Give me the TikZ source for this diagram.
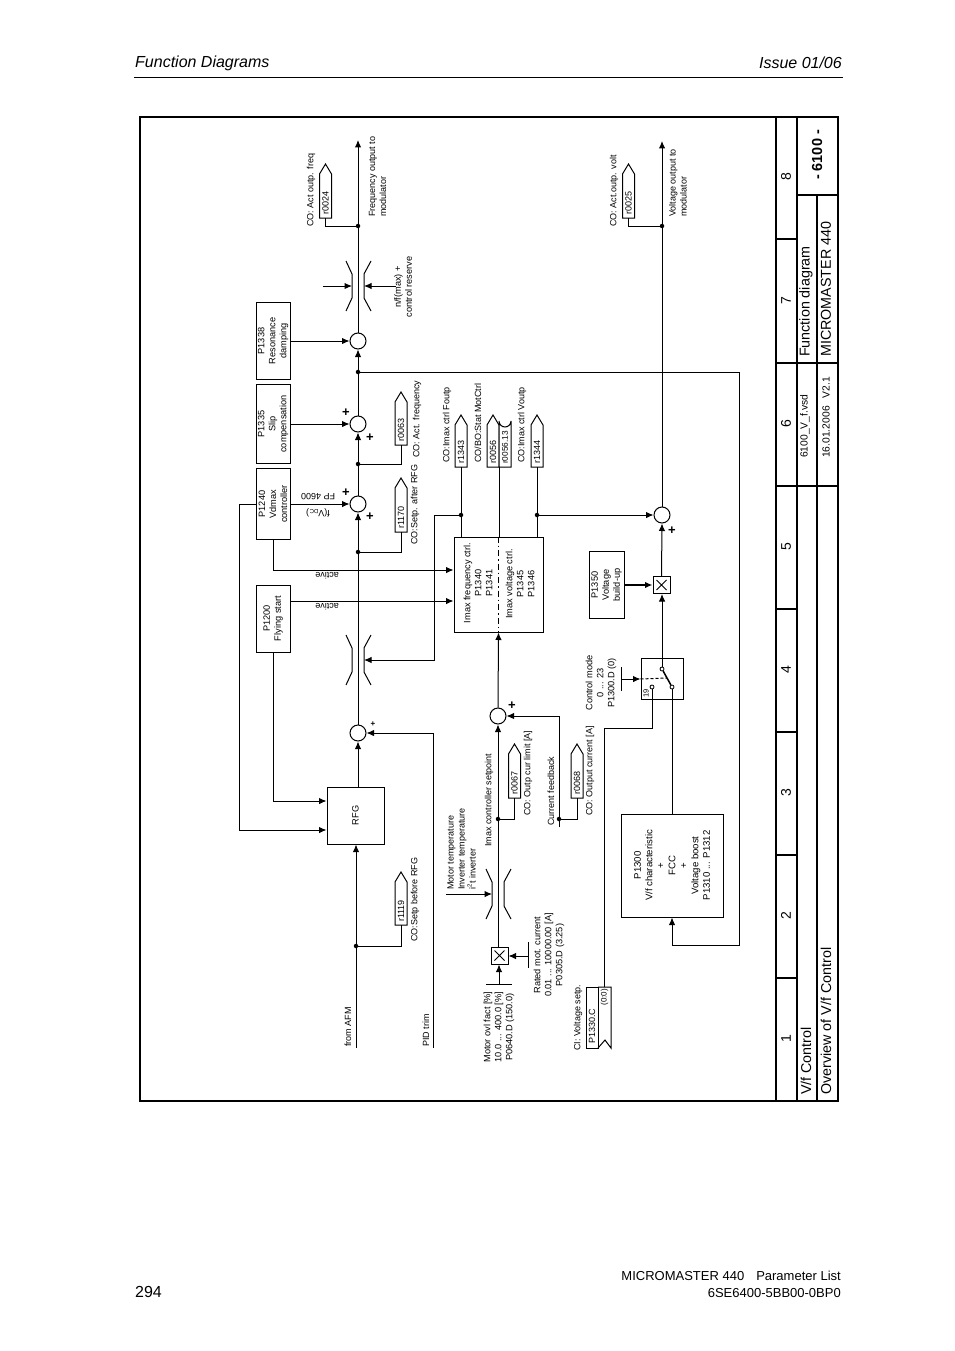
\documentclass[tikz,border=0pt]{standalone}
\usepackage{fontspec}
\setmainfont{Liberation Sans}
\usetikzlibrary{shapes,arrows,arrows.meta,positioning}

\tikzset{
  sumpt/.style={circle, draw, line width=1pt, fill=white, minimum size=16pt, inner sep=0pt},
  dotpt/.style={circle, fill=black, minimum size=4.5pt, inner sep=0pt},
  contpt/.style={circle, draw, fill=white, minimum size=4pt, inner sep=0pt, line width=0.8pt},
  blockbox/.style={rectangle, draw, line width=1pt, fill=white, inner sep=0pt},
  multbox/.style={rectangle, draw, line width=1pt, fill=white, minimum size=17pt, inner sep=0pt},
  wire/.style={line width=1pt},
  flow/.style={line width=1pt, -{Latex[length=7.5pt,width=6.5pt]}},
  rim/.style={line width=2pt},
  lbl/.style={rotate=90, align=center, inner sep=0pt, font=\fontsize{9.2pt}{11pt}\selectfont},
  lblw/.style={rotate=90, align=left, anchor=west, inner sep=0pt, font=\fontsize{9pt}{11pt}\selectfont},
  flip/.style={rotate=180, inner sep=0pt, font=\fontsize{9pt}{11pt}\selectfont},
  taglbl/.style={rotate=90, anchor=west, inner sep=0pt, font=\fontsize{9pt}{11pt}\selectfont},
  plus/.style={inner sep=0pt, font=\fontsize{13pt}{13pt}\selectfont\bfseries},
  colnum/.style={rotate=90, inner sep=0pt, font=\fontsize{14pt}{14pt}\selectfont},
  titlew/.style={rotate=90, anchor=west, inner sep=0pt, font=\fontsize{14.3pt}{14.3pt}\selectfont},
  smallw/.style={rotate=90, anchor=west, inner sep=0pt, font=\fontsize{10.3pt}{10.3pt}\selectfont},
  page/.style={inner sep=0pt, font=\fontsize{13pt}{16pt}\selectfont}
}

\newcommand{\sigtag}[5]{
  \draw[wire, fill=white] (#2-6,#3) -- (#2-6,#4+10) -- (#2,#4) -- (#2+6,#4+10) -- (#2+6,#3) -- cycle;
  \coordinate (#1) at (#2,#3);
  \node[taglbl] (#1t) at (#2,#3-3) {#5};
}
\newcommand{\limiter}[3]{
  \draw[wire] (#1-12,#2-25) -- (#1-6,#2-12) -- (#1-6,#2+12) -- (#1-12,#2+25);
  \draw[wire] (#1+13,#2-25) -- (#1+6,#2-12) -- (#1+6,#2+12) -- (#1+13,#2+25);
  \coordinate (#3l) at (#1-6,#2);
  \coordinate (#3r) at (#1+6,#2);
}

\begin{document}
\begin{tikzpicture}[x=1pt, y=-1pt]
  \useasboundingbox (0,0) rectangle (954,1351);

  \node[page, anchor=west, font=\fontsize{16pt}{16pt}\selectfont\itshape] (hdrL) at (135,63) {Function Diagrams};
  \node[page, anchor=east, font=\fontsize{16pt}{16pt}\selectfont\itshape] (hdrR) at (842,63) {Issue 01/06};
  \draw[wire] (134,78) -- (843,78);

  \draw[rim] (140,117) rectangle (838,1101);
  \draw[rim] (776,117) -- (776,1101);
  \draw[rim] (797,117) -- (797,1101);
  \draw[rim] (817,195) -- (817,1101);
  \draw[rim] (797,195) -- (838,195);
  \draw[rim] (776,239) -- (797,239);
  \draw[rim] (776,363) -- (838,363);
  \draw[rim] (776,486) -- (838,486);
  \draw[rim] (776,609) -- (797,609);
  \draw[rim] (776,732) -- (797,732);
  \draw[rim] (776,855) -- (797,855);
  \draw[rim] (776,978) -- (797,978);

  \node[colnum] (col8) at (786,177) {8};
  \node[colnum] (col7) at (786,301) {7};
  \node[colnum] (col6) at (786,424) {6};
  \node[colnum] (col5) at (786,547) {5};
  \node[colnum] (col4) at (786,670) {4};
  \node[colnum] (col3) at (786,793) {3};
  \node[colnum] (col2) at (786,916) {2};
  \node[colnum] (col1) at (786,1039) {1};

  \node[titlew] (titleA) at (806,1095) {V/f Control};
  \node[titlew] (titleB) at (826,1095) {Overview of V/f Control};
  \node[titlew] (titleC) at (806,357) {Function diagram};
  \node[titlew] (titleD) at (826,357) {MICROMASTER 440};
  \node[smallw] (titleE) at (805,458) {6100\_V\_f.vsd};
  \node[smallw] (titleF) at (826,458) {16.01.2006\hspace{8pt}V2.1};
  \node[rotate=90, inner sep=0pt, font=\fontsize{14.5pt}{14.5pt}\selectfont\bfseries] (titleG) at (817,155) {- 6100 -};

  \node[sumpt] (sumRes) at (358,341) {};
  \node[sumpt] (sumSlip) at (358,424) {};
  \node[sumpt] (sumVd) at (358,504) {};
  \node[sumpt] (sumPid) at (358,733) {};
  \node[sumpt] (sumI) at (498,716) {};
  \node[sumpt] (sumV) at (662,515) {};

  \node[dotpt] (dotFreq) at (358,226) {};
  \node[dotpt] (dotVolt) at (662,226) {};
  \node[dotpt] (dotBack) at (358,372) {};
  \node[dotpt] (dotAct) at (358,464) {};
  \node[dotpt] (dotSetp) at (358,552) {};
  \node[dotpt] (dotAfm) at (356,946) {};
  \node[dotpt] (dotFout) at (461,515) {};
  \node[dotpt] (dotVout) at (537,515) {};
  \node[dotpt] (dotLim) at (498,819) {};
  \node[dotpt] (dotFb) at (559,819) {};

  \node[blockbox, minimum width=34pt, minimum height=77pt] (P1338) at (273,341) {};
  \node[lbl] (tP1338) at (P1338) {P1338\\Resonance\\damping};
  \node[blockbox, minimum width=34pt, minimum height=79pt] (P1335) at (273,424) {};
  \node[lbl] (tP1335) at (P1335) {P1335\\Slip\\compensation};
  \node[blockbox, minimum width=34pt, minimum height=71pt] (P1240) at (273,504) {};
  \node[lbl] (tP1240) at (P1240) {P1240\\Vdmax\\controller};
  \node[blockbox, minimum width=34pt, minimum height=67pt] (P1200) at (273,618.5) {};
  \node[lbl] (tP1200) at (P1200) {P1200\\Flying start};
  \node[blockbox, minimum width=57pt, minimum height=57pt] (RFG) at (355.5,815.5) {};
  \node[lbl] (tRFG) at (RFG) {RFG};
  \node[blockbox, minimum width=89pt, minimum height=95pt] (Imax) at (498.5,584.5) {};
  \node[lbl] (tImaxF) at (478,583) {Imax frequency ctrl.\\P1340\\P1341};
  \node[lbl] (tImaxV) at (520,584) {Imax voltage ctrl.\\P1345\\P1346};
  \node[blockbox, minimum width=35pt, minimum height=67pt] (P1350) at (606.5,585) {};
  \node[lbl] (tP1350) at (P1350) {P1350\\Voltage\\build-up};
  \node[blockbox, minimum width=102pt, minimum height=103pt] (P1300) at (672,865.5) {};
  \node[lbl, font=\fontsize{9.6pt}{11.5pt}\selectfont] (tP1300) at (P1300) {P1300\\V/f characteristic\\+\\FCC\\+\\Voltage boost\\P1310 ... P1312};
  \node[blockbox, minimum width=42pt, minimum height=41pt] (swBox) at (662,678.5) {};
  \node[multbox] (mulV) at (661.5,585) {};
  \draw[wire] (mulV.center) ++(-5,-5) -- ++(10,10) ++(0,-10) -- ++(-10,10);
  \node[multbox] (mulI) at (499.5,955.5) {};
  \draw[wire] (mulI.center) ++(-5,-5) -- ++(10,10) ++(0,-10) -- ++(-10,10);

  \limiter{358}{286}{limA}
  \limiter{358}{660}{limB}
  \limiter{498}{894}{limC}

  \coordinate (outF) at (358,140);
  \coordinate (outV) at (662,141);
  \coordinate (fromAfm) at (356,1048);
  \coordinate (pidEnd) at (433,1048);
  \coordinate (pidCor) at (433,733);
  \coordinate (limAin) at (323,286);
  \coordinate (limAex) at (396,286);
  \coordinate (limCin) at (446,894);
  \coordinate (cVd) at (239,830);
  \coordinate (cFly) at (273,801);
  \coordinate (cAct) at (273,570);
  \coordinate (cLim) at (434,660);
  \coordinate (cRes) at (739,945);
  \coordinate (cFb) at (559,716);
  \coordinate (fbEnd) at (559,827);
  \coordinate (cSw) at (604,728);
  \coordinate (ctrlT) at (621,679);
  \coordinate (bladeM) at (667,678);
  \coordinate (ratedT) at (528,956);
  \coordinate (ovlT) at (499,984);

  \sigtag{r0024}{325.5}{218}{164}{r0024}
  \sigtag{r0025}{628.5}{218}{164}{r0025}
  \sigtag{r0063}{401}{445}{392}{r0063}
  \sigtag{r1170}{401}{532}{478}{r1170}
  \sigtag{r1119}{401}{925}{872}{r1119}
  \sigtag{r1343}{461}{467}{415}{r1343}
  \sigtag{r0056}{493}{467}{415}{r0056}
  \sigtag{r1344}{537}{467}{415}{r1344}
  \sigtag{r0067}{514.5}{798}{744}{r0067}
  \sigtag{r0068}{577}{798}{744}{r0068}
  \draw[wire, fill=white] (499,467) -- (499,421) arc[start angle=180, end angle=0, radius=6] -- (511,467) -- cycle;
  \coordinate (r0056b) at (499,467);
  \node[taglbl, font=\fontsize{8.3pt}{9pt}\selectfont] (r0056bt) at (505,464) {r0056.13};

  \draw[flow] (sumRes.north) -- (outF);
  \draw[wire] (sumSlip.north) -- (dotBack);
  \draw[flow] (dotBack) -- (sumRes.south);
  \draw[flow] (P1338.east) -- (sumRes.west);
  \draw[flow] (P1335.east) -- (sumSlip.west);
  \draw[wire] (sumVd.north) -- (dotAct);
  \draw[flow] (dotAct) -- (sumSlip.south);
  \draw[flow] (P1240.east) -- (sumVd.west);
  \draw[flow] (sumPid.north) -- (sumVd.south);
  \draw[flow] (RFG.north -| sumPid) -- (sumPid.south);
  \draw[flow] (fromAfm) -- (RFG.south -| fromAfm);
  \draw[wire] (r0024) |- (dotFreq);
  \draw[wire] (r0025) |- (dotVolt);
  \draw[wire] (r0063) |- (dotAct);
  \draw[wire] (r1170) |- (dotSetp);
  \draw[wire] (r1119) |- (dotAfm);
  \draw[flow] (limAin) -- (limAl);
  \draw[flow] (limAex) -- (limAr);
  \draw[flow] (pidEnd) -- (pidCor) -- (sumPid.east);
  \draw[flow] (dotFout) -| (cLim) -- (limBr);
  \draw[flow] (P1240.west) -| (cVd) -- (RFG.west |- cVd);
  \draw[flow] (P1200.south) -- (cFly) -- (RFG.west |- cFly);
  \draw[flow] (P1240.south) -- (cAct) -- (Imax.west |- cAct);
  \draw[flow] (P1200.east |- 0,601) -- (Imax.west |- 0,601);
  \draw[wire] (r1343) -- (Imax.north -| r1343);
  \draw[wire] (r0056b) -- (Imax.north -| r0056b);
  \draw[wire] (r1344) -- (Imax.north -| r1344);
  \draw[flow] (dotVout) -- (sumV.west);
  \draw[wire, dash pattern=on 6pt off 3pt on 1.5pt off 3pt] (Imax.north) -- (Imax.south);
  \draw[flow] (sumI.north) -- (Imax.south);
  \draw[wire] (mulI.north -| sumI) -- (dotLim);
  \draw[flow] (dotLim) -- (sumI.south);
  \draw[wire] (r0067) |- (dotLim);
  \draw[wire] (r0068) |- (dotFb);
  \draw[flow] (fbEnd) -- (cFb) -- (sumI.east);
  \draw[flow] (limCin) -- (limCl);
  \draw[flow] (ratedT) -- (mulI.east |- ratedT);
  \draw[wire] (528,942) -- (528,968);
  \draw[flow] (ovlT) -- (mulI.south -| ovlT);
  \draw[wire] (486,984) -- (512,984);

  \draw[wire] (sumV.north) -- (dotVolt);
  \draw[flow] (dotVolt) -- (outV);
  \draw[flow] (dotBack) -| (cRes) -| (P1300.south);
  \draw[flow] (mulV.north) -- (sumV.south);
  \draw[flow, line width=1.6pt] (P1350.east) -- (mulV.west);

  \node[contpt] (contA) at (662,669) {};
  \node[contpt] (contB) at (672,687) {};
  \node[contpt] (contC) at (652,687) {};
  \draw[line width=1.5pt] (contA) -- (contB);
  \draw[flow] (contA) -- (mulV.south -| contA);
  \draw[wire] (P1300.north) -- (contB);
  \coordinate (P1330) at (604,987);
  \draw[wire] (P1330) -- (cSw) -| (contC);
  \draw[flow] (ctrlT) -- (swBox.west |- ctrlT);
  \draw[wire] (621,667) -- (621,691);
  \draw[wire, densely dashed] (swBox.west |- ctrlT) -- (bladeM);
  \node[rotate=90, inner sep=0pt, font=\fontsize{7.5pt}{8pt}\selectfont] (t19) at (646,693) {19};

  \draw[wire] (586,987) rectangle (598,1048);
  \draw[wire] (598,987) -- (611,987) -- (611,1048) -- (605,1040) -- (598,1048);
  \node[taglbl] (tP1330) at (592,1044) {P1330.C};
  \node[rotate=90, anchor=east, inner sep=0pt, font=\fontsize{8pt}{8pt}\selectfont] (tP1330b) at (604.5,989) {(0:0)};

  \node[plus] (pA) at (346,413) {+};
  \node[plus] (pB) at (370,438) {+};
  \node[plus] (pC) at (346,493) {+};
  \node[plus] (pD) at (370,517) {+};
  \node[inner sep=0pt, font=\fontsize{8pt}{8pt}\selectfont\bfseries] (pE) at (373,724) {+};
  \node[plus] (pF) at (512,706) {+};
  \node[plus] (pG) at (672,531) {+};

  \node[lblw] (lFreqAct) at (311,227) {CO: Act outp. freq};
  \node[lblw] (lFreqOut) at (377.5,217) {Frequency output to\\modulator};
  \node[lbl] (lRes) at (403,287) {n/f(max) +\\control reserve};
  \node[lblw] (lActF) at (417,458) {CO: Act. frequency};
  \node[lblw] (lSetpA) at (415,545) {CO:Setp. after RFG};
  \node[lblw] (lSetpB) at (415,942) {CO:Setp before RFG};
  \node[lblw] (lFout) at (447,463) {CO:Imax ctrl Foutp};
  \node[lblw] (lStat) at (478,463) {CO/BO:Stat MotCtrl};
  \node[lblw] (lVout) at (522,463) {CO:Imax ctrl Voutp};
  \node[lblw] (lVoltAct) at (614,227) {CO: Act.outp. volt};
  \node[lblw] (lVoltOut) at (678,217) {Voltage output to\\modulator};
  \node[flip] (lFp) at (318,497) {FP 4600};
  \node[flip] (lVdc) at (318,513) {f(V\textsubscript{DC})};
  \node[flip] (lActA) at (327,575.5) {active};
  \node[flip] (lActB) at (327,606.5) {active};
  \node[lblw] (lAfm) at (348,1047) {from AFM};
  \node[lblw] (lPid) at (426,1047) {PID trim};
  \node[lblw] (lImax) at (489,847) {Imax controller setpoint};
  \node[lblw] (lOutp) at (528,816) {CO: Outp cur limit [A]};
  \node[lblw] (lFb) at (551,826) {Current feedback};
  \node[lblw] (lCur) at (590,816) {CO: Output current [A]};
  \node[lblw] (lTemp) at (461.5,890) {Motor temperature\\Inverter temperature\\i\textsuperscript{2}t inverter};
  \node[lbl] (lOvl) at (499,1027) {Motor ovl fact [\%]\\10.0 ... 400.0 [\%]\\P0640.D (150.0)};
  \node[lbl] (lRated) at (549,955) {Rated mot. current\\0.01 ... 10000.00 [A]\\P0305.D (3.25)};
  \node[lblw] (lCi) at (578,1051) {CI: Voltage setp.};
  \node[lbl] (lCtrl) at (601,683) {Control mode\\0 ... 23\\P1300.D (0)};

  \node[page, anchor=west, font=\fontsize{16pt}{16pt}\selectfont] (pageNo) at (135,1292) {294};
  \node[page, anchor=east] (footA) at (841,1276) {MICROMASTER 440\hspace{12pt}Parameter List};
  \node[page, anchor=east] (footB) at (841,1293) {6SE6400-5BB00-0BP0};
\end{tikzpicture}
\end{document}
